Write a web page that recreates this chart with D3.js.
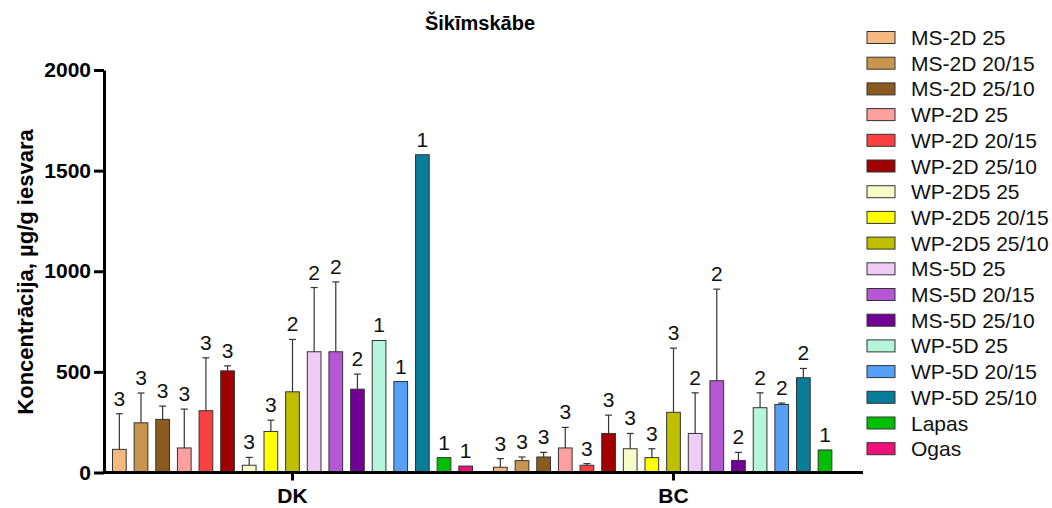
<!DOCTYPE html>
<html>
<head>
<meta charset="utf-8">
<script src="https://cdn.jsdelivr.net/npm/d3@7"></script>
<style>
  html, body { margin: 0; padding: 0; background: #fff; }
  svg { display: block; font-family: "Liberation Sans", Arial, sans-serif; }
</style>
</head>
<body>
<svg id="chart" width="1052" height="508"></svg>
<script>
const title = "Šikīmskābe";
const yTitle = "Koncentrācija, µg/g iesvara";
const categories = ["DK", "BC"];
const series = ["MS-2D 25", "MS-2D 20/15", "MS-2D 25/10", "WP-2D 25", "WP-2D 20/15", "WP-2D 25/10",
  "WP-2D5 25", "WP-2D5 20/15", "WP-2D5 25/10", "MS-5D 25", "MS-5D 20/15", "MS-5D 25/10",
  "WP-5D 25", "WP-5D 20/15", "WP-5D 25/10", "Lapas", "Ogas"];
const colors = ["#F4B97F", "#C8954F", "#8B5A1E", "#FFA0A0", "#FA4040", "#A00000",
  "#F5FCC8", "#FFFF00", "#BFBF00", "#EECCF5", "#B657D6", "#720096",
  "#B5F5DC", "#56A0F8", "#077D99", "#00BF00", "#F0107A"];
const yTicks = [0, 500, 1000, 1500, 2000];

const dkValues = [115, 247, 264, 122, 307, 505, 36, 204, 401, 600, 600, 414, 656, 452, 1579, 74, 32];
const dkErrors = [177, 148, 66, 193, 263, 25, 39, 56, 260, 319, 347, 75, null, null, null, null, null];
const dkN = [3, 3, 3, 3, 3, 3, 3, 3, 2, 2, 2, 2, 1, 1, 1, 1, 1];

const bcValues = [26, 59, 77, 122, 36, 194, 118, 74, 299, 194, 456, 60, 322, 338, 471, 112, null];
const bcErrors = [43, 18, 23, 102, 8, 91, 76, 44, 319, 202, 455, 40, 74, 7, 46, null, null];
const bcN = [3, 3, 3, 3, 3, 3, 3, 3, 3, 2, 2, 2, 2, 2, 2, 1, null];

const groups = [
  { cat: "DK", values: dkValues, errors: dkErrors, n: dkN },
  { cat: "BC", values: bcValues, errors: bcErrors, n: bcN }
];

const svg = d3.select("#chart");
const y = d3.scaleLinear().domain([0, 2000]).range([472.5, 70]);
const x0 = d3.scaleBand().domain(categories).range([102, 864]).paddingInner(0).paddingOuter(0);
const x1 = d3.scaleBand().domain(series).range([0, x0.bandwidth()]).paddingInner(0.367).paddingOuter(0.485);

const items = [];
groups.forEach(g => {
  series.forEach((s, i) => {
    if (g.values[i] == null) return;
    items.push({ cat: g.cat, s, i, v: g.values[i], e: g.errors[i], n: g.n[i] });
  });
});

const plot = svg.append("g");
// bars
plot.selectAll("rect.bar").data(items).enter().append("rect")
  .attr("class", "bar")
  .attr("x", d => x0(d.cat) + x1(d.s))
  .attr("width", x1.bandwidth())
  .attr("y", d => y(d.v))
  .attr("height", d => y(0) - y(d.v))
  .attr("fill", d => colors[d.i])
  .attr("stroke", "#333")
  .attr("stroke-width", 1);

// error bars
const eb = items.filter(d => d.e != null);
plot.selectAll("line.err").data(eb).enter().append("line")
  .attr("x1", d => x0(d.cat) + x1(d.s) + x1.bandwidth() / 2)
  .attr("x2", d => x0(d.cat) + x1(d.s) + x1.bandwidth() / 2)
  .attr("y1", d => y(d.v))
  .attr("y2", d => y(d.v + d.e))
  .attr("stroke", "#333").attr("stroke-width", 1.2);
plot.selectAll("line.cap").data(eb).enter().append("line")
  .attr("x1", d => x0(d.cat) + x1(d.s) + x1.bandwidth() / 2 - 3.5)
  .attr("x2", d => x0(d.cat) + x1(d.s) + x1.bandwidth() / 2 + 3.5)
  .attr("y1", d => y(d.v + d.e))
  .attr("y2", d => y(d.v + d.e))
  .attr("stroke", "#333").attr("stroke-width", 1.2);

// n labels
plot.selectAll("text.n").data(items.filter(d => d.n != null)).enter().append("text")
  .attr("x", d => x0(d.cat) + x1(d.s) + x1.bandwidth() / 2)
  .attr("y", d => y(d.v + (d.e || 0)) - 8)
  .attr("text-anchor", "middle")
  .attr("font-size", 21)
  .attr("fill", "#111")
  .text(d => d.n);

// y axis
const yAxis = svg.append("g")
  .attr("transform", "translate(104,0)")
  .call(d3.axisLeft(y).tickValues(yTicks).tickFormat(d3.format("d")).tickSize(10).tickSizeOuter(0).tickPadding(3));
yAxis.select(".domain").attr("stroke", "#000").attr("stroke-width", 3);
yAxis.selectAll(".tick line").attr("stroke", "#000").attr("stroke-width", 3);
yAxis.selectAll(".tick text").attr("font-size", 21).attr("font-weight", "bold")
  .attr("fill", "#000").attr("font-family", "Liberation Sans, Arial, sans-serif");

// x axis
const xAxis = svg.append("g")
  .attr("transform", `translate(0,${y(0)})`)
  .call(d3.axisBottom(x0).tickSize(8).tickSizeOuter(0).tickPadding(8));
xAxis.select(".domain").remove();
xAxis.append("line").attr("x1", 102.5).attr("x2", 863).attr("y1", 0).attr("y2", 0)
  .attr("stroke", "#000").attr("stroke-width", 3);
xAxis.selectAll(".tick line").attr("stroke", "#000").attr("stroke-width", 3);
xAxis.selectAll(".tick text").attr("font-size", 21).attr("font-weight", "bold")
  .attr("fill", "#000").attr("font-family", "Liberation Sans, Arial, sans-serif");

// titles
svg.append("text").attr("x", 480).attr("y", 30).attr("text-anchor", "middle")
  .attr("font-size", 20).attr("font-weight", "bold").text(title);
svg.append("text").attr("transform", "translate(33,272) rotate(-90)")
  .attr("text-anchor", "middle").attr("font-size", 22).attr("font-weight", "bold").text(yTitle);

// legend
const leg = svg.append("g").selectAll("g").data(series).enter().append("g")
  .attr("transform", (d, i) => `translate(867,${37.5 + i * 25.7})`);
leg.append("rect").attr("x", 0).attr("y", -6).attr("width", 28).attr("height", 12)
  .attr("fill", (d, i) => colors[i]).attr("stroke", "#333").attr("stroke-width", 1);
leg.append("text").attr("x", 44).attr("y", 0).attr("dy", "0.36em")
  .attr("font-size", 21).attr("fill", "#111").text(d => d);
</script>
</body>
</html>
